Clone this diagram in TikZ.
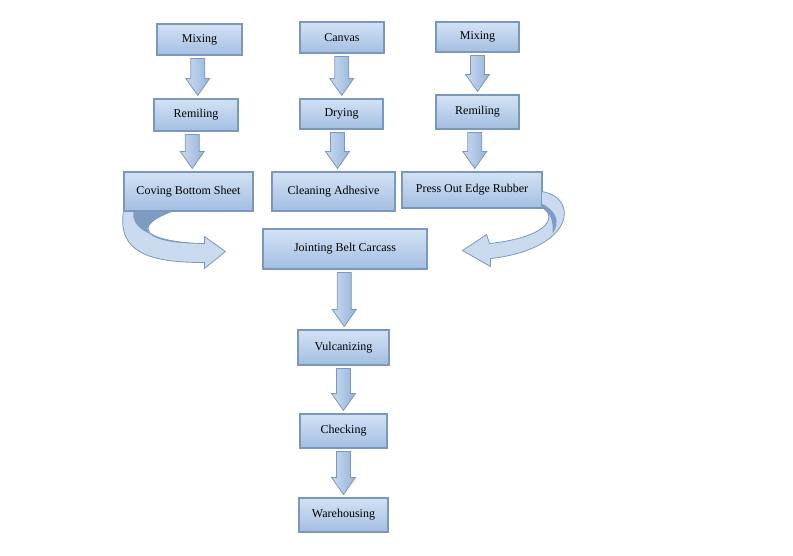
\documentclass[tikz,border=0pt]{standalone}
\usepackage{fontspec}
\setmainfont{Liberation Serif}
\usetikzlibrary{positioning, calc}
\definecolor{boxtop}{HTML}{D3E2F5}
\definecolor{boxbot}{HTML}{A3BEE1}
\definecolor{boxline}{HTML}{7B97BD}
\definecolor{arrlight}{HTML}{CADBF0}
\definecolor{arrdark}{HTML}{97B3DA}
\definecolor{turnshade}{HTML}{7E9BC2}
\tikzset{
    x=1pt, y=-1pt, % one unit is one pixel of the page, y runs down
    stage/.style={draw=boxline, line width=1.1pt, top color=boxtop, bottom color=boxbot, inner sep=0pt, font=\fontsize{12}{14}\selectfont}, % the process boxes
    flowarrow/.style={draw=boxline, line width=0.8pt, left color=arrlight, right color=arrdark}, % the fat down arrows
    ribbon/.style={draw=boxline, line width=0.8pt, fill=arrdark!75!white}, % the curved turn arrows
}
% fat block arrow from the bottom of one box to the top of the next
\newcommand{\flowstep}[2]{%
  \path[flowarrow] let \p1=(#1.south), \p2=(#2.north), \n1={0.5*\x1+0.5*\x2} in
    (\n1-7pt,\y1-3pt) -- (\n1+7pt,\y1-3pt) -- (\n1+7pt,\y2+20pt) -- (\n1+12pt,\y2+20pt)
    -- (\n1+0pt,\y2+3pt) -- (\n1-12pt,\y2+20pt) -- (\n1-7pt,\y2+20pt) -- cycle;}

\begin{document}
\begin{tikzpicture}
    \useasboundingbox[fill=white] (0,0) rectangle (793,555);

    % left column
    \node[stage, minimum width=85pt, minimum height=31pt] (mixA) at (199.5,39.5) {Mixing};
    \node[stage, minimum width=84pt, minimum height=32pt] (remA) at (196,115) {Remiling};
    \node[stage, minimum width=129pt, minimum height=39pt] (covA) at (188.5,191.5) {Coving Bottom Sheet};
    % middle column
    \node[stage, minimum width=84pt, minimum height=31pt] (canvas) at (342,37.5) {Canvas};
    \node[stage, minimum width=83pt, minimum height=30pt] (drying) at (341.5,114) {Drying};
    \node[stage, minimum width=123pt, minimum height=39pt] (clean) at (333.5,191.5) {Cleaning Adhesive};
    % right column
    \node[stage, minimum width=83pt, minimum height=30pt] (mixC) at (477.5,37) {Mixing};
    \node[stage, minimum width=83pt, minimum height=34pt] (remC) at (477.5,112) {Remiling};
    \node[stage, minimum width=140pt, minimum height=36pt] (press) at (472,190) {Press Out Edge Rubber};
    % joined line
    \node[stage, minimum width=164pt, minimum height=40pt] (joint) at (345,249) {Jointing Belt Carcass};
    \node[stage, minimum width=91pt, minimum height=35pt] (vulc) at (343.5,347.5) {Vulcanizing};
    \node[stage, minimum width=87pt, minimum height=34pt] (check) at (343.5,431) {Checking};
    \node[stage, minimum width=89pt, minimum height=34pt] (ware) at (343.5,515) {Warehousing};

    \flowstep{mixA}{remA}
    \flowstep{remA}{covA}
    \flowstep{canvas}{drying}
    \flowstep{drying}{clean}
    \flowstep{mixC}{remC}
    \flowstep{remC}{press}
    \flowstep{joint}{vulc}
    \flowstep{vulc}{check}
    \flowstep{check}{ware}

    % turn arrow from the left column into the joint box
    \begin{scope}[shift={(covA.south west)}]
        \path[ribbon, fill=arrlight] (0,0) .. controls (-6,41) and (26,51) .. (81,51) -- (81,57) -- (102,40)
            -- (81,25) -- (81,32) .. controls (26,31) and (4,17) .. (48,0) -- cycle;
        \fill[turnshade] (10,0) -- (48,0) .. controls (4,17) and (26,31) .. (70,32) .. controls (24,27) and (8,16) .. (10,0) -- cycle;
    \end{scope}
    % turn arrow from the right column into the joint box
    \begin{scope}[shift={(press.south east)}]
        \path[ribbon, fill=arrlight] (-1,-17) .. controls (36,-12) and (34,40) .. (-52,50) -- (-52,58) -- (-80,42)
            -- (-56,26) -- (-53,35) .. controls (10,28) and (14,6) .. (-1,-1) -- cycle;
        \fill[turnshade] (-1,-5) .. controls (14,2) and (18,14) .. (10,25) .. controls (11,12) and (8,4) .. (-1,-1) -- cycle;
    \end{scope}
\end{tikzpicture}
\end{document}
